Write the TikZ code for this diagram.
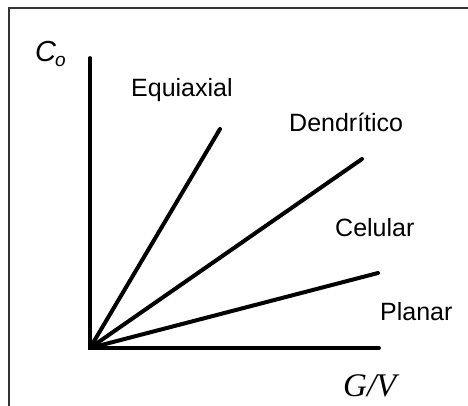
\documentclass[tikz,border=0pt]{standalone}
\usepackage{fontspec}
\setmainfont{Liberation Sans}
\newfontfamily\timesfont{Liberation Serif}
\usetikzlibrary{positioning}
\definecolor{Frame}{HTML}{333333}

\begin{document}
\begin{tikzpicture}[
  x=1pt,y=-1pt,
  frame/.style={draw=Frame,line width=2.6pt},
  axis/.style={line width=3.8pt,line cap=round},
  ray/.style={line width=4pt,line cap=round},
  lbl/.style={font=\fontsize{25}{30}\selectfont,inner sep=0pt,anchor=base west}
]
\useasboundingbox (0,0) rectangle (468,406);
\draw[frame] (9,406) -- (9,8) -- (468,8);
% axes
\coordinate (orig) at (90,348);
\coordinate (ytop) at (90,58);
\coordinate (xend) at (379,348);
\draw[axis] (ytop) -- (orig) -- (xend);
% growth regimes
\coordinate (equi) at (220,129);
\coordinate (dend) at (362,159);
\coordinate (celu) at (378,273);
\draw[ray] (orig) -- (equi);
\draw[ray] (orig) -- (dend);
\draw[ray] (orig) -- (celu);
\node[lbl] (lequi) at (131,97) {Equiaxial};
\node[lbl] (ldend) at (289,132) {Dendrítico};
\node[lbl] (lcelu) at (335,236) {Celular};
\node[lbl] (lplan) at (380,320) {Planar};
% axis labels
\node[inner sep=0pt,anchor=base west,font=\fontsize{29}{32}\selectfont] (co) at (35,62) {\itshape C\kern-1pt\raisebox{-5pt}{\fontsize{19}{22}\selectfont o}};
\node[inner sep=0pt,anchor=base west,font=\timesfont\fontsize{33}{36}\selectfont] (gv) at (343,396) {\itshape G/V};
\end{tikzpicture}
\end{document}
